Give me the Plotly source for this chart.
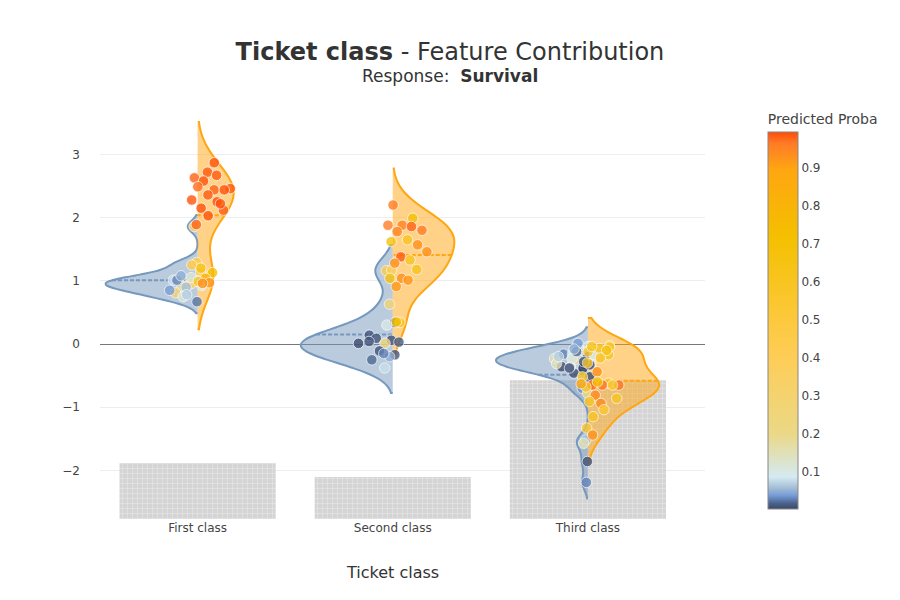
import numpy as np
import plotly.graph_objects as go

# ---------------- data ----------------
categories = ["First class", "Second class", "Third class"]
hist_pct = [23.6, 17.7, 58.6]

first_contrib = [2.87, 2.72, 2.63, 2.67, 2.58, 2.46, 2.44, 2.49, 2.44, 2.36, 2.28, 2.25, 2.15, 2.12,
                 2.03, 1.89, 2.22, 1.86, 1.29, 1.25, 1.20, 1.13, 1.14, 1.04, 0.99, 0.93, 0.97, 0.96,
                 1.01, 1.00, 0.91, 0.81, 0.96, 1.01, 0.93, 0.90, 0.75, 0.67, 0.78, 0.85, 1.05, 1.08]
first_proba = [0.99, 0.985, 0.98, 0.985, 0.99, 0.985, 0.98, 0.975, 0.99, 0.985, 0.99, 0.995, 0.99, 0.985,
               0.99, 0.98, 0.99, 0.42, 0.45, 0.44, 0.65, 0.70, 0.42, 0.80, 0.60, 0.40, 0.92, 0.93,
               0.08, 0.10, 0.18, 0.30, 0.35, 0.03, 0.09, 0.06, 0.12, 0.025, 0.07, 0.04, 0.12, 0.05]

second_contrib = [2.20, 1.99, 1.88, 1.88, 1.86, 1.78, 1.80, 1.65, 1.62, 1.57, 1.38, 1.46, 1.33, 1.28,
                  1.16, 1.17, 1.18, 1.04, 1.04, 1.01, 0.91, 0.63, 0.34, 0.35, 0.34, 0.30, 0.14, 0.06,
                  0.09, 0.01, 0.01, 0.04, -0.17, -0.11, -0.25, -0.20, -0.38, 0.03, -0.15]
second_proba = [0.96, 0.70, 0.95, 0.96, 0.98, 0.95, 0.96, 0.60, 0.65, 0.93, 0.985, 0.93, 0.60, 0.93,
                0.45, 0.38, 0.62, 0.93, 0.68, 0.92, 0.92, 0.28, 0.62, 0.70, 0.01, 0.10, 0.01, 0.008,
                0.012, 0.005, 0.25, 0.01, 0.01, 0.008, 0.02, 0.05, 0.08, 0.015, 0.03]

third_contrib = [-0.16, -0.15, -0.16, -0.23, -0.41, -0.46, -0.31, -0.25, -0.36, -0.33, -0.36, -0.17,
                 -0.10, 0.01, -0.04, -0.23, -0.31, -0.38, -0.38, -0.52, -0.62, -0.70, -0.78, -1.52,
                 -1.57, -1.86, -2.19, -0.33, -0.12, -0.20, -0.28, -0.08,
                 -0.03, -0.07, -0.12, -0.17, -0.44, -0.52, -0.62, -0.65, -0.65, -0.65, -0.68, -0.65,
                 -0.81, -0.86, -0.94, -0.91, -1.04, -1.15, -1.33, -1.44, -0.04, -0.05, -0.22, -0.30, -0.10,
                 -0.60, -0.63]
third_proba = [0.03, 0.004, 0.10, 0.15, 0.005, 0.008, 0.10, 0.22, 0.006, 0.003, 0.09, 0.10,
               0.12, 0.04, 0.10, 0.10, 0.15, 0.004, 0.006, 0.005, 0.03, 0.035, 0.20, 0.06,
               0.15, 0.008, 0.03, 0.005, 0.02, 0.07, 0.01, 0.05,
               0.60, 0.60, 0.55, 0.60, 0.93, 0.60, 0.55, 0.98, 0.97, 0.97, 0.60, 0.55,
               0.94, 0.60, 0.94, 0.60, 0.55, 0.60, 0.55, 0.93, 0.62, 0.58, 0.60, 0.57, 0.65,
               0.70, 0.88]

contribs = [first_contrib, second_contrib, third_contrib]
probas = [first_proba, second_proba, third_proba]

# ---------------- style ----------------
colorscale = [
    [0.0, "rgb(60,70,105)"],
    [0.015, "rgb(74,99,138)"],
    [0.035, "rgb(116,153,214)"],
    [0.055, "rgb(162,188,213)"],
    [0.085, "rgb(212,234,242)"],
    [0.2, "rgb(235,216,134)"],
    [0.42, "rgb(255,204,83)"],
    [0.72, "rgb(244,192,0)"],
    [0.9, "rgb(255,166,17)"],
    [0.97, "rgb(255,123,38)"],
    [1.0, "rgb(255,77,7)"],
]
blue_line = "rgb(117,152,189)"
orange_line = "rgb(255,166,17)"
font_family = "DejaVu Sans"
violin_width = {0: [0.94, 0.94, 0.94], 1: [0.37, 0.63, 0.73]}


def silverman_kde(data, pts):
    data = np.asarray(data, float)
    n = len(data)
    sd = np.std(data, ddof=1) if n > 1 else 1.0
    q75, q25 = np.percentile(data, [75, 25])
    iqr = q75 - q25
    s = min(sd, iqr / 1.349) if iqr > 0 else sd
    bw = 1.059 * s * n ** (-0.2)
    z = (np.asarray(pts)[:, None] - data[None, :]) / bw
    return np.exp(-0.5 * z ** 2).sum(axis=1)


fig = go.Figure()

# distribution bars (hidden primary axis, drawn underneath)
fig.add_trace(go.Bar(
    x=[0, 1, 2], y=hist_pct, yaxis="y", width=0.8, showlegend=False, hoverinfo="skip",
    marker=dict(color="rgb(212,212,212)", line=dict(width=0),
                pattern=dict(shape="+", fgcolor="white", bgcolor="rgb(212,212,212)",
                             size=5, solidity=0.2, fillmode="overlay")),
))

xs_all, ys_all, ps_all = [], [], []
golden = 0.6180339887
k = 0
for ci, (yv, pv) in enumerate(zip(contribs, probas)):
    yv = np.asarray(yv)
    pv = np.asarray(pv)
    for cls, side, col in [(0, "negative", blue_line), (1, "positive", orange_line)]:
        mask = (pv >= 0.5) if cls == 1 else (pv < 0.5)
        fig.add_trace(go.Violin(
            x=np.full(mask.sum(), ci), y=yv[mask], yaxis="y2", side=side,
            line=dict(color=col, width=2), points=False, meanline_visible=True,
            scalemode="width", width=violin_width[cls][ci], showlegend=False, hoverinfo="skip",
        ))
        sub = yv[mask]
        dens = silverman_kde(sub, sub)
        rel = dens / dens.max()
        sgn = -1 if cls == 0 else 1
        for yy, pp, rr in zip(sub, pv[mask], rel):
            k += 1
            u = ((0.5 + k * golden) % 1.0) * 2 - 1
            xs_all.append(ci + rr * (sgn * 0.07 + u * 0.11))
            ys_all.append(yy)
            ps_all.append(pp)

fig.add_trace(go.Scatter(
    x=xs_all, y=ys_all, yaxis="y2", mode="markers", showlegend=False,
    marker=dict(color=ps_all, colorscale=colorscale, cmin=min(ps_all), cmax=max(ps_all),
                size=10.5, opacity=0.8, line=dict(width=0.8, color="white"),
                showscale=True,
                colorbar=dict(title=dict(text="Predicted Proba", side="top",
                                         font=dict(size=14, color="#444")),
                              x=1.088, y=0, yanchor="bottom", len=1.05,
                              thickness=30, dtick=0.1, tick0=0,
                              outlinecolor="#888", outlinewidth=1,
                              tickfont=dict(size=12, color="#444"))),
))

fig.update_layout(
    template="none",
    width=900, height=600,
    font=dict(family=font_family, color="#444"),
    title=dict(
        text="<b>Ticket class</b> - Feature Contribution",
        x=0.4911, xanchor="center", y=0.927, yanchor="middle",
        font=dict(size=24, color="#333", family=font_family),
    ),
    annotations=[
        dict(text="Response:  <b>Survival</b>", xref="paper", yref="paper",
             x=(442 - 92) / 605, y=(511 - 68) / 398, xanchor="center", yanchor="middle",
             showarrow=False, font=dict(size=17, color="#333", family=font_family)),
        dict(text="Ticket class", xref="paper", yref="paper",
             x=(384.5 - 92) / 605, y=(511 - 564) / 398, xanchor="center", yanchor="middle",
             showarrow=False, font=dict(size=16, color="#333", family=font_family)),
    ],
    margin=dict(l=92, r=203, t=113, b=89),
    violinmode="overlay",
    plot_bgcolor="white", paper_bgcolor="white",
    xaxis=dict(tickvals=[0, 1, 2], ticktext=categories, range=[-0.5, 2.6],
               showgrid=False, zeroline=False, showline=False, ticks="",
               tickfont=dict(size=12, color="#444")),
    yaxis=dict(range=[0, 168], visible=False, showgrid=False, zeroline=False),
    yaxis2=dict(overlaying="y", side="left", range=[-2.77, 3.53], dtick=1,
                showgrid=True, gridcolor="#eee", ticklabelstandoff=19,
                zeroline=True, zerolinecolor="#777", zerolinewidth=1, ticks="",
                tickfont=dict(size=12, color="#444")),
)

fig.write_html("out.html")
